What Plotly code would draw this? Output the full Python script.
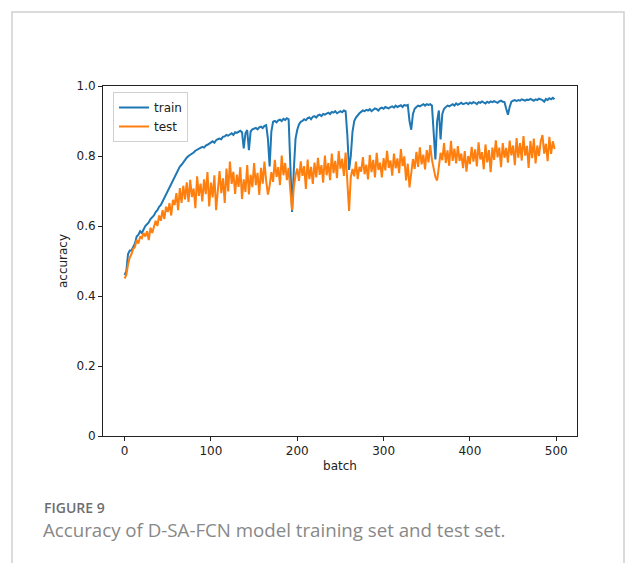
import plotly.graph_objects as go

batch = list(range(0, 500, 2))

train = [
    0.46, 0.47, 0.52, 0.53, 0.53, 0.54, 0.55, 0.57, 0.575, 0.585,
    0.58, 0.59, 0.60, 0.605, 0.61, 0.62, 0.625, 0.63, 0.64, 0.645,
    0.655, 0.66, 0.67, 0.68, 0.69, 0.70, 0.71, 0.72, 0.728, 0.74,
    0.75, 0.758, 0.77, 0.775, 0.782, 0.79, 0.795, 0.80, 0.803, 0.808,
    0.81, 0.815, 0.818, 0.82, 0.822, 0.826, 0.824, 0.83, 0.832, 0.836,
    0.84, 0.842, 0.838, 0.845, 0.848, 0.85, 0.848, 0.855, 0.856, 0.86,
    0.858, 0.862, 0.865, 0.86, 0.868, 0.866, 0.87, 0.872, 0.868, 0.822,
    0.865, 0.874, 0.817, 0.87, 0.876, 0.878, 0.88, 0.876, 0.882, 0.884,
    0.88, 0.886, 0.888, 0.85, 0.77, 0.87, 0.898, 0.90, 0.896, 0.902,
    0.904, 0.90, 0.906, 0.903, 0.908, 0.905, 0.78, 0.64, 0.76, 0.85,
    0.875, 0.89, 0.898, 0.90, 0.905, 0.902, 0.908, 0.91, 0.905, 0.912,
    0.914, 0.91, 0.916, 0.918, 0.914, 0.92, 0.918, 0.922, 0.924, 0.92,
    0.926, 0.924, 0.928, 0.922, 0.926, 0.928, 0.925, 0.93, 0.928, 0.86,
    0.76, 0.80, 0.87, 0.90, 0.91, 0.918, 0.922, 0.926, 0.93, 0.928,
    0.932, 0.93, 0.934, 0.928, 0.932, 0.936, 0.934, 0.93, 0.936, 0.938,
    0.935, 0.94, 0.938, 0.936, 0.94, 0.942, 0.938, 0.944, 0.94, 0.942,
    0.945, 0.94, 0.946, 0.944, 0.946, 0.90, 0.875, 0.92, 0.935, 0.94,
    0.944, 0.942, 0.946, 0.948, 0.944, 0.948, 0.946, 0.948, 0.944, 0.88,
    0.79, 0.90, 0.93, 0.847, 0.92, 0.935, 0.94, 0.944, 0.942, 0.946,
    0.948, 0.944, 0.95, 0.946, 0.95, 0.952, 0.948, 0.95, 0.952, 0.948,
    0.953, 0.95, 0.954, 0.952, 0.948, 0.954, 0.952, 0.956, 0.954, 0.95,
    0.955, 0.952, 0.956, 0.954, 0.957, 0.955, 0.952, 0.956, 0.958, 0.955,
    0.954, 0.935, 0.918, 0.94, 0.955, 0.958, 0.96, 0.957, 0.96, 0.958,
    0.962, 0.96, 0.958, 0.961, 0.96, 0.963, 0.96, 0.958, 0.962, 0.96,
    0.964, 0.962, 0.96, 0.955, 0.963, 0.96, 0.965, 0.962, 0.966, 0.962,
]

test = [
    0.45, 0.46, 0.49, 0.51, 0.52, 0.535, 0.54, 0.56, 0.55, 0.57,
    0.565, 0.58, 0.57, 0.585, 0.56, 0.595, 0.58, 0.60, 0.615, 0.60,
    0.63, 0.615, 0.645, 0.62, 0.655, 0.64, 0.665, 0.63, 0.675, 0.66,
    0.694, 0.645, 0.708, 0.666, 0.715, 0.676, 0.725, 0.669, 0.732, 0.683,
    0.707, 0.651, 0.742, 0.686, 0.721, 0.67, 0.733, 0.691, 0.754, 0.656,
    0.724, 0.682, 0.745, 0.645, 0.71, 0.757, 0.694, 0.736, 0.666, 0.764,
    0.699, 0.784, 0.72, 0.755, 0.692, 0.747, 0.712, 0.768, 0.677, 0.733,
    0.697, 0.774, 0.69, 0.746, 0.711, 0.78, 0.717, 0.752, 0.689, 0.766,
    0.721, 0.784, 0.728, 0.69, 0.715, 0.754, 0.726, 0.789, 0.74, 0.768,
    0.717, 0.801, 0.745, 0.78, 0.731, 0.766, 0.70, 0.645, 0.71, 0.745,
    0.764, 0.729, 0.785, 0.743, 0.771, 0.706, 0.79, 0.734, 0.769, 0.72,
    0.781, 0.739, 0.795, 0.746, 0.774, 0.724, 0.801, 0.745, 0.78, 0.731,
    0.807, 0.751, 0.786, 0.737, 0.814, 0.764, 0.792, 0.743, 0.81, 0.72,
    0.643, 0.74, 0.763, 0.742, 0.784, 0.734, 0.769, 0.755, 0.797, 0.748,
    0.775, 0.733, 0.803, 0.754, 0.789, 0.739, 0.809, 0.76, 0.781, 0.739,
    0.794, 0.759, 0.815, 0.766, 0.787, 0.744, 0.807, 0.765, 0.793, 0.751,
    0.82, 0.771, 0.799, 0.73, 0.778, 0.71, 0.75, 0.791, 0.763, 0.812,
    0.769, 0.825, 0.776, 0.804, 0.762, 0.817, 0.782, 0.831, 0.789, 0.765,
    0.74, 0.73, 0.772, 0.809, 0.788, 0.837, 0.78, 0.816, 0.772, 0.843,
    0.786, 0.821, 0.779, 0.828, 0.786, 0.807, 0.765, 0.814, 0.755, 0.80,
    0.777, 0.826, 0.784, 0.819, 0.77, 0.839, 0.79, 0.811, 0.762, 0.833,
    0.782, 0.817, 0.754, 0.824, 0.789, 0.845, 0.796, 0.824, 0.768, 0.837,
    0.795, 0.823, 0.781, 0.844, 0.802, 0.83, 0.774, 0.851, 0.795, 0.837,
    0.787, 0.857, 0.801, 0.829, 0.766, 0.843, 0.794, 0.85, 0.779, 0.83,
    0.80, 0.842, 0.86, 0.807, 0.835, 0.785, 0.855, 0.806, 0.842, 0.82,
]

x_ticks = [0, 100, 200, 300, 400, 500]
y_ticks = [0, 0.2, 0.4, 0.6, 0.8, 1.0]
y_tick_text = ["0", "0.2", "0.4", "0.6", "0.8", "1.0"]

caption_label = "FIGURE 9"
caption_text = "Accuracy of D-SA-FCN model training set and test set."

W, H = 625, 563
L, R, T, B = 103, 577, 86, 436  # plot area in pixels
pw, ph = R - L, B - T


def px(x):
    return (x - L) / pw


def py(y):
    return (B - y) / ph


fig = go.Figure()
fig.add_trace(go.Scatter(x=batch, y=train, mode="lines", name="train",
                         line=dict(color="#1f77b4", width=2)))
fig.add_trace(go.Scatter(x=batch, y=test, mode="lines", name="test",
                         line=dict(color="#ff7f0e", width=2)))

axis_common = dict(showline=True, mirror=True, linecolor="#222", linewidth=1,
                   ticks="outside", ticklen=4, tickcolor="#222", showgrid=False,
                   zeroline=False, tickfont=dict(family="DejaVu Sans", size=12, color="#222"))

fig.update_layout(
    width=W, height=H,
    margin=dict(l=L, r=W - R, t=T, b=H - B),
    paper_bgcolor="white", plot_bgcolor="white",
    showlegend=True,
    legend=dict(x=px(113), y=py(92), xanchor="left", yanchor="top",
                bgcolor="rgba(255,255,255,0.9)", bordercolor="#d0d0d0", borderwidth=1,
                font=dict(family="DejaVu Sans", size=12, color="#222"),
                itemwidth=30, tracegroupgap=0),
    xaxis=dict(range=[-25, 524], tickvals=x_ticks,
               title=dict(text="batch", standoff=4,
                          font=dict(family="DejaVu Sans", size=12, color="#222")),
               **axis_common),
    yaxis=dict(range=[0, 1.0], tickvals=y_ticks, ticktext=y_tick_text,
               title=dict(text="accuracy", standoff=6,
                          font=dict(family="DejaVu Sans", size=12, color="#222")),
               **axis_common),
    shapes=[dict(type="rect", xref="paper", yref="paper",
                 x0=px(12), x1=px(624), y0=py(580), y1=py(12),
                 line=dict(color="#cfcfcf", width=1.5), fillcolor="rgba(0,0,0,0)",
                 layer="below")],
    annotations=[
        dict(text=caption_label, xref="paper", yref="paper", x=px(42), y=py(507),
             xanchor="left", yanchor="middle", showarrow=False,
             font=dict(family="Open Sans", size=14, color="#6e6e6e", weight=600)),
        dict(text=caption_text, xref="paper", yref="paper", x=px(41), y=py(529),
             xanchor="left", yanchor="middle", showarrow=False,
             font=dict(family="Open Sans", size=18.7, color="#888")),
    ],
)

fig.write_html("out.html")
